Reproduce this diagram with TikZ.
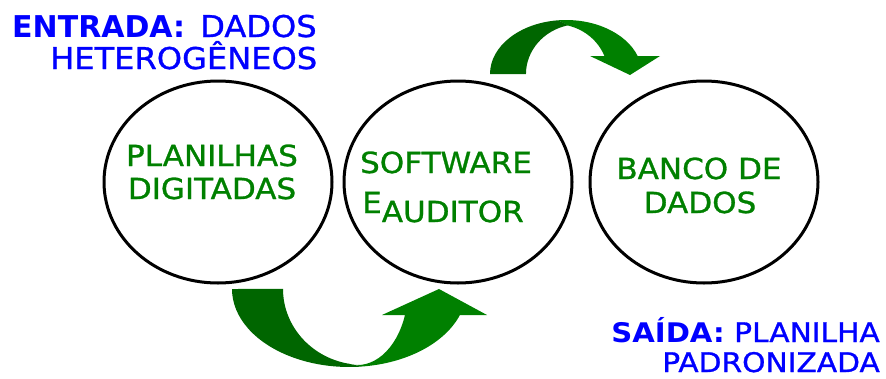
\documentclass[tikz,border=0pt]{standalone}
\usepackage{fontspec}
\setmainfont{DejaVu Sans}
\newfontfamily\comicfont[FakeStretch=1.07, FakeBold=1]{DejaVu Sans}
\newfontfamily\comicwide[FakeStretch=1.1, FakeBold=1]{DejaVu Sans}
\newfontfamily\comicbold[FakeStretch=1.0]{DejaVu Sans Bold}
\newfontfamily\comicwidebold[FakeStretch=1.08]{DejaVu Sans Bold}
\usetikzlibrary{shapes.geometric}
\definecolor{darkarrow}{RGB}{0,102,0}
\definecolor{lightarrow}{RGB}{0,128,0}
\definecolor{txtgreen}{RGB}{0,128,0}
\definecolor{txtblue}{RGB}{0,0,255}
\tikzset{
  bubble/.style={draw=black, line width=3pt, ellipse, minimum width=228pt, minimum height=202pt, inner sep=0pt},
  intext/.style={text=txtgreen, font=\comicfont\fontsize{29}{33}\selectfont, inner sep=0pt, anchor=base},
  sidetext/.style={text=txtblue, font=\comicfont\fontsize{30}{34}\selectfont, inner sep=0pt},
  sidetextsmall/.style={text=txtblue, font=\comicwide\fontsize{27}{31}\selectfont, inner sep=0pt},
}
\begin{document}
\begin{tikzpicture}[x=1pt,y=1pt]
\useasboundingbox (0,0) rectangle (886,-378);

% circles
\node[bubble] (c1) at (218,-182) {};
\node[bubble] (c2) at (458,-182) {};
\node[bubble] (c3) at (704,-182) {};

% circle texts
\node[intext] (t1a) at (212,-166) {PLANILHAS};
\node[intext] (t1b) at (212,-199) {DIGITADAS};
\node[intext] (t2a) at (446,-173) {SOFTWARE};
\node[intext, anchor=base west] (t2b) at (362,-213) {E\raisebox{-9pt}{AUDITOR}};
\node[intext] (t3a) at (699,-179) {BANCO DE};
\node[intext] (t3b) at (700,-213) {DADOS};

% top-left texts
\node[sidetext, anchor=base west, font=\comicbold\fontsize{30}{34}\selectfont] (in1) at (12,-37) {ENTRADA:};
\node[sidetext, anchor=base west] (in2) at (200,-37) {DADOS};
\node[sidetext, anchor=base west] (in3) at (50,-69) {HETEROGÊNEOS};

% bottom-right texts
\node[sidetextsmall, anchor=base east] (out1) at (880,-342) {{\comicwidebold SAÍDA:} PLANILHA};
\node[sidetextsmall, anchor=base east] (out2) at (880,-372) {PADRONIZADA};

% top curved arrow
\fill[lightarrow] (558.06,-20.3) arc[start angle=96, end angle=19.47, x radius=76, y radius=54]
  -- (660,-56) -- (630,-75) -- (590,-56) -- (604.4,-56)
  arc[start angle=21.1, end angle=75.8, x radius=53, y radius=50] -- cycle;
\fill[darkarrow] (490,-74) arc[start angle=180, end angle=96, x radius=76, y radius=54]
  -- (568,-25.3) arc[start angle=102.8, end angle=180, x radius=54, y radius=50] -- cycle;

% bottom curved arrow
\fill[lightarrow] (362,-366.5) arc[start angle=276.2, end angle=340.5, x radius=117.3, y radius=78]
  -- (487,-315) -- (439,-289) -- (382,-315) -- (405,-315)
  arc[start angle=340, end angle=259.19, x radius=50.56, y radius=76] -- cycle;
\fill[darkarrow] (232,-289) arc[start angle=180, end angle=276.2, x radius=117.3, y radius=78]
  -- (348,-363.6) arc[start angle=259.19, end angle=180, x radius=80, y radius=76] -- cycle;
\end{tikzpicture}
\end{document}
